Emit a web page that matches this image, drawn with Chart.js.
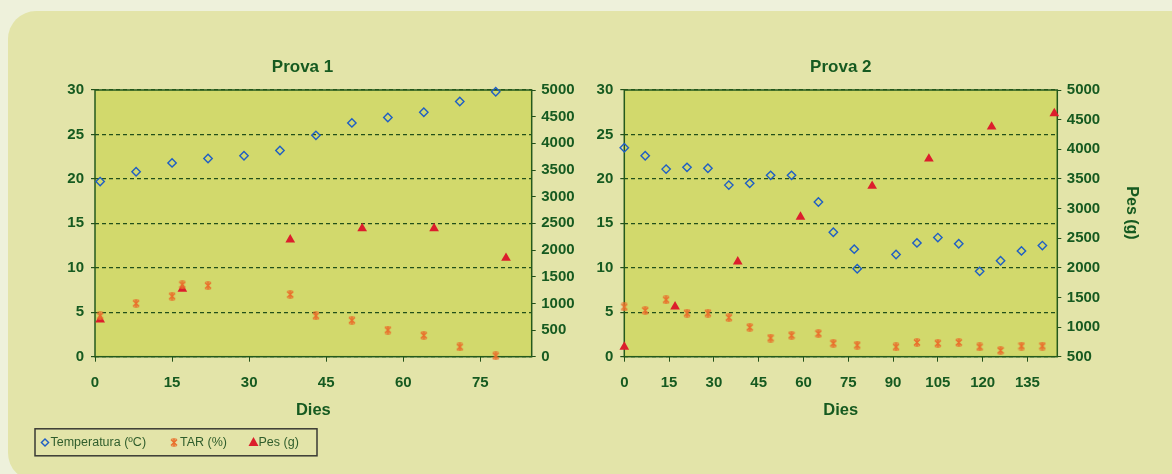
<!DOCTYPE html>
<html>
<head>
<meta charset="utf-8">
<script src="https://cdn.jsdelivr.net/npm/chart.js@4.4.1/dist/chart.umd.min.js"></script>
<style>
  html, body { margin: 0; padding: 0; width: 1172px; height: 474px; overflow: hidden; background: #eef1db; }
  #panel { position: absolute; left: 8px; top: 11px; width: 1220px; height: 470px; background: #e3e4a9; border-radius: 28px; }
  #c1 { position: absolute; left: 0; top: 0; }
  #c2 { position: absolute; left: 585px; top: 0; }
</style>
</head>
<body>
<div id="panel"></div>
<canvas id="c1" width="585" height="474"></canvas>
<canvas id="c2" width="587" height="474"></canvas>
<script>
// ---- Prova 1 ----
const tempDays1 = [1, 8, 15, 22, 29, 36, 43, 50, 57, 64, 71, 78];
const temp1 = [19.7, 20.8, 21.8, 22.3, 22.6, 23.2, 24.9, 26.3, 26.9, 27.5, 28.7, 29.8];
const tarDays1 = [1, 8, 15, 17, 22, 38, 43, 50, 57, 64, 71, 78];
const tar1 = [4.6, 6.0, 6.8, 8.1, 8.0, 7.0, 4.6, 4.1, 3.0, 2.4, 1.1, 0.1];
const pesDays1 = [1, 17, 38, 52, 66, 80];
const pes1 = [695, 1270, 2195, 2405, 2405, 1850];

// ---- Prova 2 ----
const tempDays2 = [0, 7, 14, 21, 28, 35, 42, 49, 56, 65, 70, 77, 78, 91, 98, 105, 112, 119, 126, 133, 140];
const temp2 = [23.5, 22.6, 21.1, 21.3, 21.2, 19.3, 19.5, 20.4, 20.4, 17.4, 14.0, 12.1, 9.9, 11.5, 12.8, 13.4, 12.7, 9.6, 10.8, 11.9, 12.5];
const tarDays2 = [0, 7, 14, 21, 28, 35, 42, 49, 56, 65, 70, 78, 91, 98, 105, 112, 119, 126, 133, 140];
const tar2 = [5.6, 5.2, 6.4, 4.9, 4.9, 4.4, 3.3, 2.1, 2.4, 2.6, 1.5, 1.3, 1.1, 1.6, 1.5, 1.6, 1.1, 0.7, 1.2, 1.2];
const pesDays2 = [0, 17, 38, 59, 83, 102, 123, 144];
const pes2 = [665, 1345, 2105, 2860, 3380, 3840, 4380, 4605];

// ---- axes ----
const xTicks1 = [0, 15, 30, 45, 60, 75];
const xTicks2 = [0, 15, 30, 45, 60, 75, 90, 105, 120, 135];
const titles = ['Prova 1', 'Prova 2'];
const seriesNames = ['Temperatura (ºC)', 'TAR (%)', 'Pes (g)'];
const xTitle = 'Dies';
const pesTitle = 'Pes (g)';

const TEXT = '#165a20';
const GRID = '#22501a';
const FRAME = '#245a1c';
const PLOT_BG = '#d2d96c';
const BLUE = '#1f5fc4';
const ORANGE = '#e9702c';
const RED = '#dc1e2c';
const FONT = '"Liberation Sans", Arial, Helvetica, sans-serif';

// orange asterisk marker (x with a vertical stroke)
function makeStar() {
  const c = document.createElement('canvas');
  c.width = 8; c.height = 9;
  const g = c.getContext('2d');
  g.strokeStyle = ORANGE;
  g.lineWidth = 1.5;
  g.beginPath();
  g.moveTo(1, 1.5); g.lineTo(7, 7.5);
  g.moveTo(7, 1.5); g.lineTo(1, 7.5);
  g.moveTo(4, 0.5); g.lineTo(4, 8.5);
  g.stroke();
  g.lineWidth = 1;
  g.beginPath();
  g.moveTo(1.5, 1); g.lineTo(6.5, 1);
  g.moveTo(1.5, 8); g.lineTo(6.5, 8);
  g.stroke();
  return c;
}
const starImg = makeStar();

const pts = (xs, ys) => xs.map((x, i) => ({ x: x, y: ys[i] }));

function datasets(td, t, rd, r, pd, p) {
  return [
    { label: seriesNames[0], data: pts(td, t), yAxisID: 'y', pointStyle: 'rectRot', pointRadius: 4.2,
      borderColor: BLUE, backgroundColor: 'rgba(0,0,0,0)', pointBorderWidth: 1.4, showLine: false, clip: false },
    { label: seriesNames[1], data: pts(rd, r), yAxisID: 'y', pointStyle: starImg, pointRadius: 4,
      borderColor: ORANGE, backgroundColor: ORANGE, showLine: false, clip: false },
    { label: seriesNames[2], data: pts(pd, p), yAxisID: 'y2', pointStyle: 'triangle', pointRadius: 5.6,
      borderColor: RED, backgroundColor: RED, pointBorderWidth: 0, showLine: false, clip: false }
  ];
}

const plotFrame = {
  id: 'plotFrame',
  beforeDraw(chart) {
    const { ctx, chartArea: a } = chart;
    ctx.save();
    ctx.fillStyle = PLOT_BG;
    ctx.fillRect(a.left, a.top, a.right - a.left, a.bottom - a.top);
    ctx.restore();
  },
  beforeDatasetsDraw(chart) {
    const { ctx, chartArea: a } = chart;
    ctx.save();
    ctx.strokeStyle = FRAME;
    ctx.lineWidth = 1.5;
    ctx.strokeRect(a.left, a.top, a.right - a.left, a.bottom - a.top);
    ctx.restore();
  }
};

// boxed legend under the first chart
const boxLegend = {
  id: 'boxLegend',
  afterDraw(chart) {
    const ctx = chart.ctx;
    const ds = chart.data.datasets;
    const cy = 442.5;
    const marks = [45, 174, 253.5];
    const texts = [50.5, 180, 258.5];
    ctx.save();
    ctx.strokeStyle = '#3a3a34';
    ctx.lineWidth = 1.5;
    ctx.strokeRect(35, 428.8, 282, 27);
    // diamond
    ctx.strokeStyle = ds[0].borderColor;
    ctx.lineWidth = 1.4;
    ctx.beginPath();
    ctx.moveTo(marks[0], cy - 3.6); ctx.lineTo(marks[0] + 3.6, cy);
    ctx.lineTo(marks[0], cy + 3.6); ctx.lineTo(marks[0] - 3.6, cy);
    ctx.closePath(); ctx.stroke();
    // asterisk
    ctx.drawImage(starImg, marks[1] - starImg.width / 2, cy - starImg.height / 2);
    // triangle
    ctx.fillStyle = ds[2].backgroundColor;
    ctx.beginPath();
    ctx.moveTo(marks[2], cy - 5.5); ctx.lineTo(marks[2] + 5, cy + 3.6); ctx.lineTo(marks[2] - 5, cy + 3.6);
    ctx.closePath(); ctx.fill();
    ctx.fillStyle = '#2f5d2c';
    ctx.font = '12.5px ' + FONT;
    ctx.textBaseline = 'middle';
    ctx.textAlign = 'left';
    ds.forEach((d, i) => ctx.fillText(d.label, texts[i], cy + 0.5));
    ctx.restore();
  }
};

// rotated title beside the weight axis
const pesAxisTitle = {
  id: 'pesAxisTitle',
  afterDraw(chart) {
    const ctx = chart.ctx;
    ctx.save();
    ctx.translate(1131 - 585, 213);
    ctx.rotate(Math.PI / 2);
    ctx.fillStyle = TEXT;
    ctx.font = 'bold 16px ' + FONT;
    ctx.textAlign = 'center';
    ctx.textBaseline = 'middle';
    ctx.fillText(pesTitle, 0, 0);
    ctx.restore();
  }
};

const tickFont = { family: FONT, size: 15, weight: 'bold' };
const plain = v => String(v);

function makeOptions(cfg) {
  return {
    responsive: false,
    animation: false,
    events: [],
    layout: { padding: cfg.padding },
    plugins: {
      legend: { display: false },
      tooltip: { enabled: false },
      title: {
        display: true, text: cfg.title, color: TEXT, fullSize: cfg.titleFull,
        font: { family: FONT, size: 17, weight: 'bold' },
        padding: { top: 56.8, bottom: 12.8 }
      }
    },
    scales: {
      x: {
        type: 'linear', position: 'bottom', min: 0, max: cfg.xMax,
        afterBuildTicks: s => { s.ticks = cfg.xTicks.map(v => ({ value: v })); },
        afterFit: s => { s.height = 117.3; },
        grid: { drawOnChartArea: false, color: GRID, tickLength: 5, tickBorderDash: [] },
        border: { display: false },
        ticks: { color: TEXT, font: tickFont, padding: 12, maxRotation: 0, autoSkip: false, callback: plain },
        title: { display: true, text: xTitle, color: TEXT, font: { family: FONT, size: 16.5, weight: 'bold' },
                 padding: { top: 0, bottom: 53.5 } }
      },
      y: {
        type: 'linear', position: 'left', min: 0, max: 30,
        afterFit: s => { s.width = cfg.yWidth; },
        grid: { color: GRID, lineWidth: 1.2, tickLength: 4, tickBorderDash: [] },
        border: { display: false, dash: [4, 3] },
        ticks: { color: TEXT, font: tickFont, padding: 7, stepSize: 5, callback: plain }
      },
      y2: {
        type: 'linear', position: 'right', min: cfg.pMin, max: 5000,
        afterFit: s => { s.width = cfg.y2Width; },
        grid: { drawOnChartArea: false, color: GRID, tickLength: 4, tickBorderDash: [] },
        border: { display: false },
        ticks: { color: TEXT, font: tickFont, padding: 5.5, stepSize: 500, callback: plain }
      }
    }
  };
}

new Chart(document.getElementById('c1'), {
  type: 'scatter',
  data: { datasets: datasets(tempDays1, temp1, tarDays1, tar1, pesDays1, pes1) },
  options: makeOptions({ title: titles[0], titleFull: true, padding: { left: 20, right: 0, top: 0, bottom: 0 },
    xMax: 85, xTicks: xTicks1, yWidth: 75, y2Width: 53.3, pMin: 0 }),
  plugins: [plotFrame, boxLegend]
});

new Chart(document.getElementById('c2'), {
  type: 'scatter',
  data: { datasets: datasets(tempDays2, temp2, tarDays2, tar2, pesDays2, pes2) },
  options: makeOptions({ title: titles[1], titleFull: false, padding: { left: 0, right: 20, top: 0, bottom: 0 },
    xMax: 145, xTicks: xTicks2, yWidth: 39.3, y2Width: 94.7, pMin: 500 }),
  plugins: [plotFrame, pesAxisTitle]
});
</script>
</body>
</html>
